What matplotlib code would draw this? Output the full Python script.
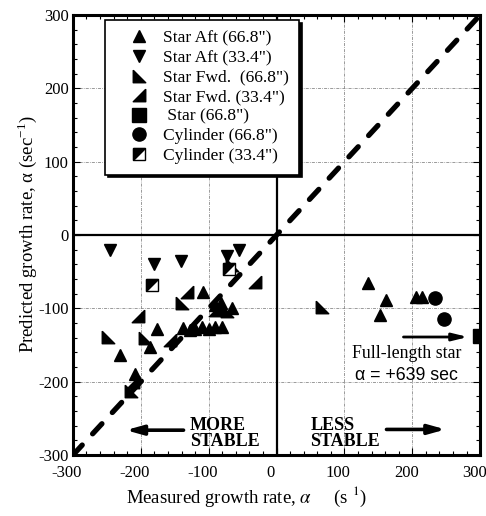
import numpy as np
import matplotlib
matplotlib.use("Agg")
import matplotlib.pyplot as plt
import matplotlib.transforms as mtransforms
from matplotlib.lines import Line2D
from matplotlib.path import Path
from matplotlib.legend_handler import HandlerTuple
from matplotlib.ticker import MultipleLocator

plt.rcParams['font.family'] = ['Liberation Serif', 'DejaVu Serif']
plt.rcParams['mathtext.fontset'] = 'stix'
plt.rcParams['axes.unicode_minus'] = False

# ---- data: measured vs predicted growth rate (1/s) ----
star_aft_668_x = [-109, -90, -82, -66, -138, -128, -120, -110, -100, -90, -80,
                  -176, -187, -231, -208, 135, 162, 153, 205, 214]
star_aft_668_y = [-78, -95, -92, -100, -127, -130, -128, -126, -128, -126, -126,
                  -128, -152, -163, -190, -66, -89, -109, -84, -84]

star_aft_334_x = [-245, -180, -141, -73, -56]
star_aft_334_y = [-20, -40, -36, -29, -20]

star_fwd_668_x = [-248, -140, -194, -66, -73, -215, 67]
star_fwd_668_y = [-139, -93, -141, -41, -104, -212, -98]

star_fwd_334_x = [-132, -204, -32, -157, -212, -91]
star_fwd_334_y = [-77, -111, -64, -143, -200, -102]

star_668_x = [639]
star_668_y = [-138]

cyl_668_x = [234, 246]
cyl_668_y = [-86, -114]

cyl_334_x = [-184, -70]
cyl_334_y = [-68, -46]

axis_lim = [-300, 300]
major_ticks = [-300, -200, -100, 0, 100, 200, 300]

legend_labels = ['Star Aft (66.8")', 'Star Aft (33.4")', 'Star Fwd.  (66.8")',
                 'Star Fwd. (33.4")', ' Star (66.8")', 'Cylinder (66.8")',
                 'Cylinder (33.4")']

# ---- custom marker shapes ----
tri_lower_left = Path([(-1, 1), (-1, -1), (1, -1), (-1, 1)])    # right angle bottom-left
tri_lower_right = Path([(1, 1), (1, -1), (-1, -1), (1, 1)])     # right angle bottom-right
tri_upper_left = Path([(-1, 1), (1, 1), (-1, -1), (-1, 1)])     # upper-left half of a square

fig = plt.figure(figsize=(4.86, 5.16), dpi=100)
ax = fig.add_axes([0.150, 0.118, 0.838, 0.853])
ax.set_xlim(axis_lim)
ax.set_ylim(axis_lim)

# reference grid
grid_kw = dict(color='0.5', lw=0.55, ls=(0, (4, 1.5, 1, 1.5)), zorder=1)
for v in [-200, -100, 100, 200]:
    ax.axvline(v, **grid_kw)
    ax.axhline(v, **grid_kw)

# zero axes
ax.axhline(0, color='k', lw=1.6, zorder=2)
ax.axvline(0, color='k', lw=1.6, zorder=2)

# line of perfect agreement
ax.plot(axis_lim, axis_lim, color='k', lw=3.8, ls=(0, (2.6, 2.9)),
        dash_capstyle='round', zorder=4)

ms = 9
mkw = dict(linestyle='none', color='k', markersize=ms, zorder=5)
ax.plot(star_aft_668_x, star_aft_668_y, marker='^', **mkw)
ax.plot(star_aft_334_x, star_aft_334_y, marker='v', **mkw)
ax.plot(star_fwd_668_x, star_fwd_668_y, marker=tri_lower_left, **mkw)
ax.plot(star_fwd_334_x, star_fwd_334_y, marker=tri_lower_right, **mkw)
# full-length star lies beyond the axis; pin it at the right edge
ax.plot(np.clip(star_668_x, *axis_lim), star_668_y, marker='s', clip_on=True,
        linestyle='none', color='k', markersize=10, zorder=5)
ax.plot(cyl_668_x, cyl_668_y, marker='o', linestyle='none', color='k',
        markersize=9.5, zorder=5)
ax.plot(cyl_334_x, cyl_334_y, marker='s', linestyle='none', markerfacecolor='white',
        markeredgecolor='k', markeredgewidth=1.0, markersize=8.5, zorder=5)
ax.plot(cyl_334_x, cyl_334_y, marker=tri_upper_left, linestyle='none', color='k',
        markersize=8.5, zorder=6)

# axes styling
for s in ax.spines.values():
    s.set_linewidth(2.2)
ax.set_xticks(major_ticks)
ax.set_yticks(major_ticks)
ax.xaxis.set_minor_locator(MultipleLocator(20))
ax.yaxis.set_minor_locator(MultipleLocator(20))
ax.tick_params(which='both', direction='in', top=True, right=True, width=0.8,
               labelsize=12, pad=3)
ax.tick_params(axis='x', which='major', pad=7)
ax.tick_params(which='major', length=5)
ax.tick_params(which='minor', length=3)
shift = mtransforms.ScaledTranslation(-6 / 100, 0, fig.dpi_scale_trans)
for lbl in ax.get_xticklabels():
    lbl.set_transform(lbl.get_transform() + shift)

# legend
h_sa = Line2D([], [], marker='^', **mkw)
h_sa3 = Line2D([], [], marker='v', **mkw)
h_sf = Line2D([], [], marker=tri_lower_left, **mkw)
h_sf3 = Line2D([], [], marker=tri_lower_right, **mkw)
h_s = Line2D([], [], marker='s', linestyle='none', color='k', markersize=10)
h_c = Line2D([], [], marker='o', linestyle='none', color='k', markersize=9.5)
h_c3a = Line2D([], [], marker='s', linestyle='none', markerfacecolor='white',
               markeredgecolor='k', markeredgewidth=1.0, markersize=8.5)
h_c3b = Line2D([], [], marker=tri_upper_left, linestyle='none', color='k', markersize=8.5)
leg = ax.legend([h_sa, h_sa3, h_sf, h_sf3, h_s, h_c, (h_c3a, h_c3b)], legend_labels,
                handler_map={tuple: HandlerTuple(ndivide=1)},
                loc='upper left', bbox_to_anchor=(0.079, 0.989), borderaxespad=0,
                fontsize=12.6, frameon=True, fancybox=False,
                shadow={'color': 'k', 'alpha': 1},
                edgecolor='k', framealpha=1, handlelength=2.69, handletextpad=0.02,
                labelspacing=0.19, borderpad=0.6)
leg.get_frame().set_linewidth(1.2)
leg.set_zorder(10)

# stability annotations
arrow_big = dict(arrowstyle='-|>,head_length=1.0,head_width=0.28',
                 color='k', lw=2.6, shrinkA=0, shrinkB=0)
ax.text(-128, -270, 'MORE\nSTABLE', fontsize=13, fontweight='bold', ha='left',
        va='center', linespacing=0.92, zorder=7)
ax.annotate('', xy=(-222, -266), xytext=(-137, -266), arrowprops=arrow_big)
ax.text(50, -270, 'LESS\nSTABLE', fontsize=13, fontweight='bold', ha='left',
        va='center', linespacing=0.92, zorder=7)
ax.annotate('', xy=(249, -265), xytext=(162, -265), arrowprops=arrow_big)

# full-length star note
ax.annotate('', xy=(282, -139), xytext=(187, -139),
            arrowprops=dict(arrowstyle='-|>,head_length=0.9,head_width=0.22',
                            color='k', lw=2.0, shrinkA=0, shrinkB=0))
ax.text(192, -161, 'Full-length star', fontsize=12.8, ha='center', va='center')
ax.text(192, -191, 'α = +639 sec', fontsize=12.8, ha='center', va='center',
        family=['Liberation Sans', 'DejaVu Sans'])

# axis labels
fig.text(0.508, 0.037, r'Measured growth rate, $\alpha$     (s $^{1}$)', fontsize=13.5,
         ha='center', va='center')
fig.text(0.056, 0.547, r'Predicted growth rate, α (sec$^{\mathregular{-1}}$)',
         fontsize=13.5, ha='center', va='center', rotation=90)

fig.savefig('out.png', dpi=100)
